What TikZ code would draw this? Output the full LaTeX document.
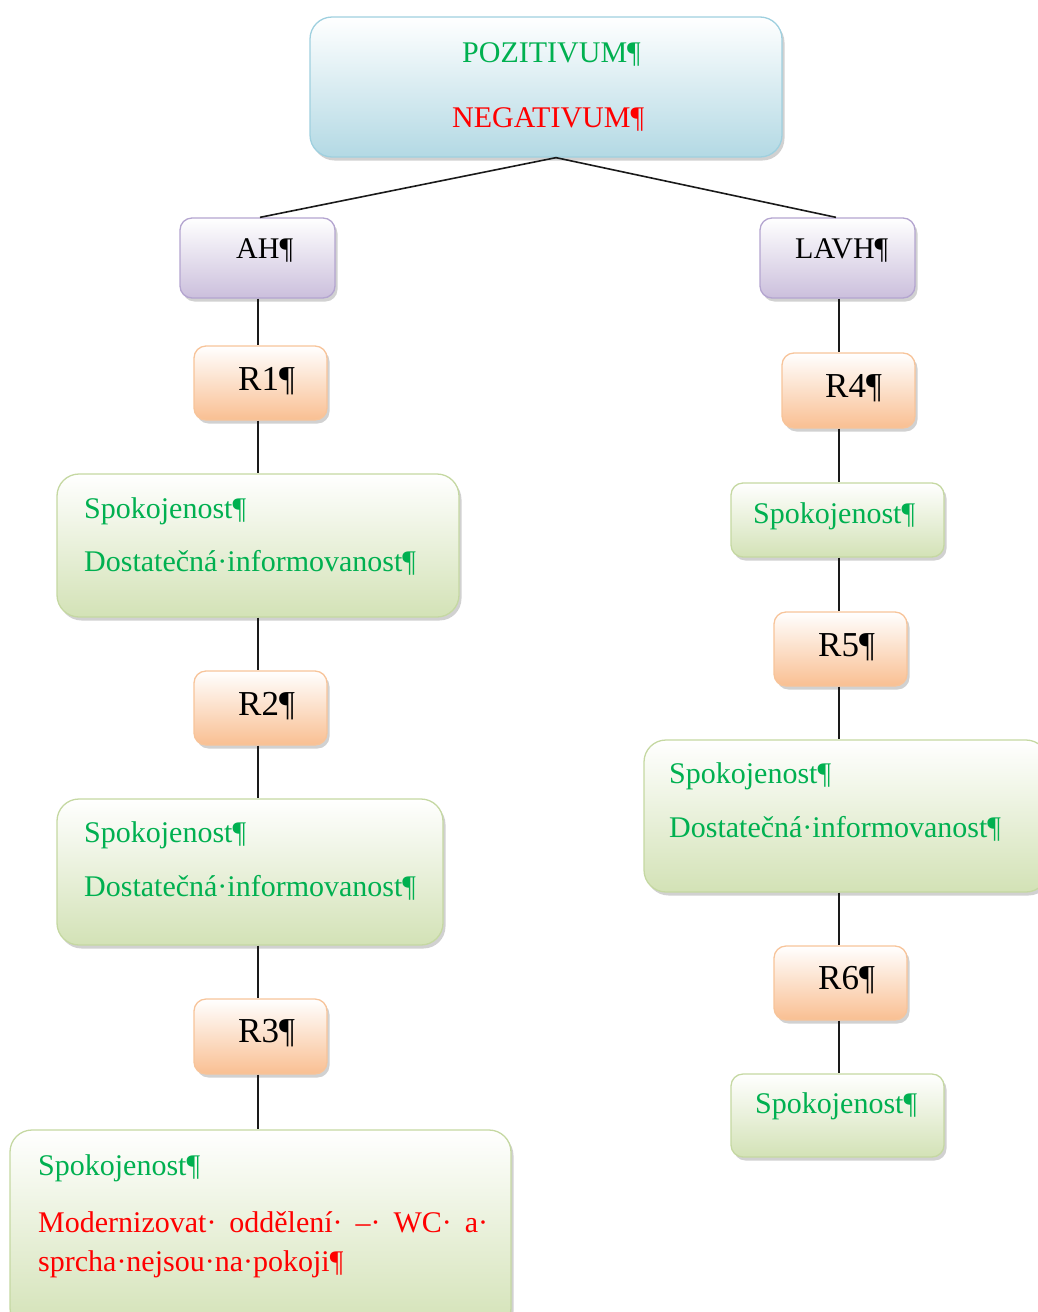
\documentclass[tikz,border=0pt]{standalone}
\usepackage{fontspec}
\setmainfont{Liberation Serif}
\usetikzlibrary{shadows,calc}

\definecolor{txtgreen}{HTML}{00B050}
\definecolor{txtred}{HTML}{FF0000}
\definecolor{blueline}{HTML}{9FD0DF}
\definecolor{bluefill}{HTML}{B3D9E4}
\definecolor{purpline}{HTML}{B4A5D0}
\definecolor{purpfill}{HTML}{CBBFDC}
\definecolor{orline}{HTML}{F7C49A}
\definecolor{orfill}{HTML}{F9BF92}
\definecolor{grline}{HTML}{C5D8A2}
\definecolor{grfill}{HTML}{D3E2B6}
\definecolor{linkcol}{HTML}{1A1A1A}

\tikzset{
  basebox/.style={line width=1.3pt, inner sep=0pt,
    drop shadow={shadow xshift=2.5pt, shadow yshift=-3.5pt, opacity=0.45, fill=gray!80}},
  bluebox/.style={basebox, draw=blueline, top color=white, bottom color=bluefill, rounded corners=22pt},
  purpbox/.style={basebox, draw=purpline, top color=white, bottom color=purpfill, rounded corners=12pt},
  orbox/.style={basebox, draw=orline, top color=white, bottom color=orfill, rounded corners=12pt},
  grbox/.style={basebox, draw=grline, top color=white, bottom color=grfill, rounded corners=#1},
  grbox/.default=22pt,
  label/.style={inner sep=0pt, anchor=base west, font=\fontsize{30}{36}\selectfont},
  rlabel/.style={inner sep=0pt, anchor=base west, font=\fontsize{35}{42}\selectfont},
  link/.style={draw=linkcol, line width=1.6pt}
}

\begin{document}
\begin{tikzpicture}[x=1pt,y=-1pt]
  \useasboundingbox (0,0) rectangle (1038,1312);

  % boxes
  \node[bluebox, minimum width=472pt, minimum height=140pt] (top) at (546,87) {};
  \node[purpbox, minimum width=155pt, minimum height=80pt] (ah) at (257.5,258) {};
  \node[purpbox, minimum width=155pt, minimum height=80pt] (lavh) at (837.5,258) {};

  \node[orbox, minimum width=133pt, minimum height=74pt] (r1) at (260.5,383) {};
  \node[grbox, minimum width=402pt, minimum height=143pt] (g1) at (258,545.5) {};
  \node[orbox, minimum width=133pt, minimum height=74pt] (r2) at (260.5,708) {};
  \node[grbox, minimum width=386pt, minimum height=146pt] (g2) at (250,872) {};
  \node[orbox, minimum width=133pt, minimum height=75pt] (r3) at (260.5,1036.5) {};
  \node[grbox, minimum width=501pt, minimum height=200pt] (g3) at (260.5,1230) {};

  \node[orbox, minimum width=133pt, minimum height=75pt] (r4) at (848.5,390.5) {};
  \node[grbox=12pt, minimum width=213pt, minimum height=74pt] (g4) at (837.5,520) {};
  \node[orbox, minimum width=133pt, minimum height=74pt] (r5) at (840.5,649) {};
  \node[grbox, minimum width=404pt, minimum height=152pt] (g5) at (846,816) {};
  \node[orbox, minimum width=133pt, minimum height=74pt] (r6) at (840.5,983) {};
  \node[grbox=12pt, minimum width=213pt, minimum height=83pt] (g6) at (837.5,1115.5) {};

  % texts
  \node[label, text=txtgreen] (tpos) at (462,62) {POZITIVUM¶};
  \node[label, text=txtred] (tneg) at (452,127) {NEGATIVUM¶};
  \node[label] (tah) at (236,258) {AH¶};
  \node[label] (tlavh) at (795,258) {LAVH¶};

  \node[rlabel] (tr1) at (238,390) {R1¶};
  \node[rlabel] (tr2) at (238,715) {R2¶};
  \node[rlabel] (tr3) at (238,1042) {R3¶};
  \node[rlabel] (tr4) at (825,397) {R4¶};
  \node[rlabel] (tr5) at (818,656) {R5¶};
  \node[rlabel] (tr6) at (818,989) {R6¶};

  \node[label, text=txtgreen] (g1a) at (84,518) {Spokojenost¶};
  \node[label, text=txtgreen] (g1b) at (84,571) {Dostatečná·informovanost¶};
  \node[label, text=txtgreen] (g2a) at (84,842) {Spokojenost¶};
  \node[label, text=txtgreen] (g2b) at (84,896) {Dostatečná·informovanost¶};
  \node[label, text=txtgreen] (g3a) at (38,1175) {Spokojenost¶};
  \node[label, text=txtred] (g3b) at (38,1232)
    {\hbox to 450pt{Modernizovat·\hfill oddělení·\hfill –·\hfill WC·\hfill a·}};
  \node[label, text=txtred] (g3c) at (38,1271) {sprcha·nejsou·na·pokoji¶};

  \node[label, text=txtgreen] (g4a) at (753,523) {Spokojenost¶};
  \node[label, text=txtgreen] (g5a) at (669,783) {Spokojenost¶};
  \node[label, text=txtgreen] (g5b) at (669,837) {Dostatečná·informovanost¶};
  \node[label, text=txtgreen] (g6a) at (755,1113) {Spokojenost¶};

  % connectors
  \coordinate (lc) at (258,0);
  \coordinate (rc) at (839,0);
  \draw[link] ([xshift=10pt]top.south) -- ([xshift=2.5pt]ah.north);
  \draw[link] ([xshift=10pt]top.south) -- ([xshift=-1.5pt]lavh.north);

  \draw[link] (ah.south -| lc) -- (r1.north -| lc);
  \draw[link] (r1.south -| lc) -- (g1.north -| lc);
  \draw[link] (g1.south -| lc) -- (r2.north -| lc);
  \draw[link] (r2.south -| lc) -- (g2.north -| lc);
  \draw[link] (g2.south -| lc) -- (r3.north -| lc);
  \draw[link] (r3.south -| lc) -- (g3.north -| lc);

  \draw[link] (lavh.south -| rc) -- (r4.north -| rc);
  \draw[link] (r4.south -| rc) -- (g4.north -| rc);
  \draw[link] (g4.south -| rc) -- (r5.north -| rc);
  \draw[link] (r5.south -| rc) -- (g5.north -| rc);
  \draw[link] (g5.south -| rc) -- (r6.north -| rc);
  \draw[link] (r6.south -| rc) -- (g6.north -| rc);
\end{tikzpicture}
\end{document}
